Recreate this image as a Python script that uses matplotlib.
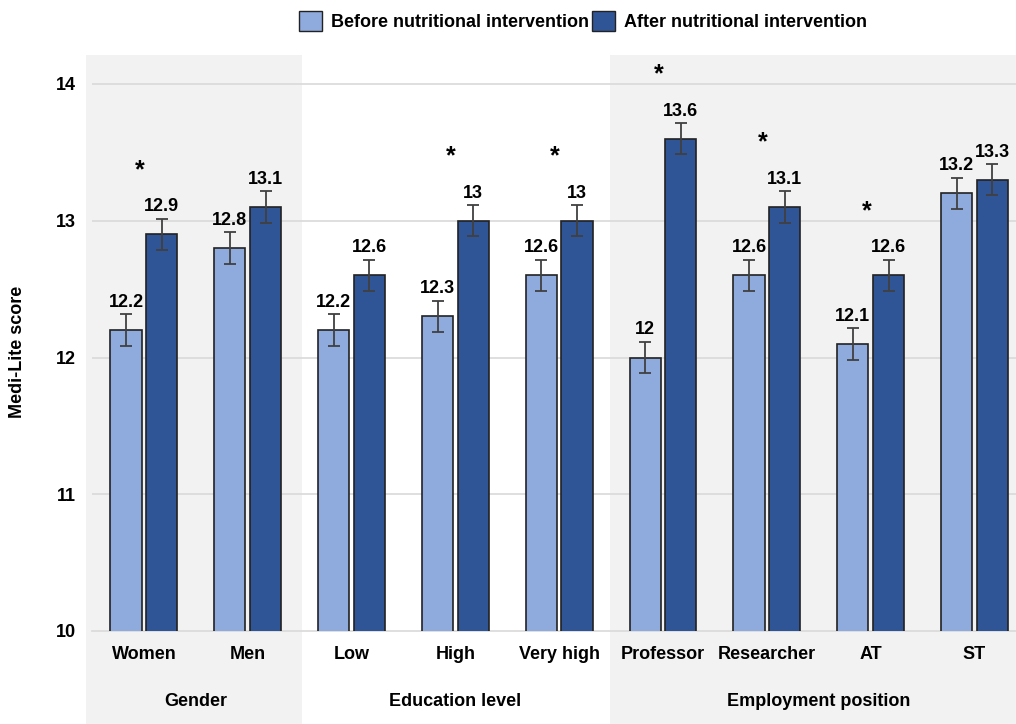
import matplotlib
matplotlib.use("Agg")
import matplotlib.pyplot as plt
from matplotlib.patches import Rectangle, Patch
import matplotlib.transforms as mtransforms
import numpy as np

plt.rcParams['font.family'] = ['Liberation Sans', 'DejaVu Sans']
plt.rcParams['font.weight'] = 'bold'

categories = ["Women", "Men", "Low", "High", "Very high",
              "Professor", "Researcher", "AT", "ST"]
groups = ["Gender", "Education level", "Employment position"]
group_sizes = [2, 3, 4]
before = [12.2, 12.8, 12.2, 12.3, 12.6, 12.0, 12.6, 12.1, 13.2]
after = [12.9, 13.1, 12.6, 13.0, 13.0, 13.6, 13.1, 12.6, 13.3]
before_err = [0.115, 0.115, 0.115, 0.115, 0.115, 0.115, 0.115, 0.115, 0.115]
after_err = [0.115, 0.115, 0.115, 0.115, 0.115, 0.115, 0.115, 0.115, 0.115]
significant = [True, False, False, True, True, True, True, True, False]
series_names = ["Before nutritional intervention", "After nutritional intervention"]
yticks = [10, 11, 12, 13, 14]

c_before = "#8FAADC"
c_after = "#2F5597"
shade = "#F2F2F2"
FS = 13

W, H = 1016, 724
fig = plt.figure(figsize=(W / 100, H / 100), dpi=100)
ax_left, ax_right = 92, 1016
ax_top, ax_bot = 55, 631
ax = fig.add_axes([ax_left / W, (H - ax_bot) / H, (ax_right - ax_left) / W, (ax_bot - ax_top) / H])

x = np.arange(len(categories))
bw = 0.30
off = 0.172

ax.set_xlim(-0.5, 8.40)
ax.set_ylim(10, 10 + (ax_bot - ax_top) / 136.75)

# background group shading
trans = mtransforms.blended_transform_factory(ax.transData, ax.transAxes)
ext = -(H - ax_bot) / (ax_bot - ax_top)
edges = [-0.56, 1.52, 4.49, 9.0]
for gi in range(3):
    if gi == 1:
        continue
    ax.add_patch(Rectangle((edges[gi], ext), edges[gi + 1] - edges[gi], 1 - ext,
                           transform=trans, facecolor=shade, edgecolor='none',
                           clip_on=False, zorder=0))

for t in yticks[1:]:
    ax.axhline(t, color="#D9D9D9", lw=1.2, zorder=1)

ax.bar(x - off, before, bw, color=c_before, edgecolor="#222222", linewidth=1.2, zorder=3,
       label=series_names[0])
ax.bar(x + off, after, bw, color=c_after, edgecolor="#222222", linewidth=1.2, zorder=3,
       label=series_names[1])
ax.errorbar(x - off, before, yerr=before_err, fmt='none', ecolor="#404040",
            elinewidth=1.3, capsize=4.3, capthick=1.3, zorder=4)
ax.errorbar(x + off, after, yerr=after_err, fmt='none', ecolor="#404040",
            elinewidth=1.3, capsize=4.3, capthick=1.3, zorder=4)

def fmt(v):
    return f"{v:g}"

for xi, v, e in zip(x - off, before, before_err):
    ax.annotate(fmt(v), (xi, v + e), xytext=(0, 2.5), textcoords='offset points',
                ha='center', va='bottom', fontsize=FS, fontweight='bold', zorder=5)
for xi, v, e in zip(x + off, after, after_err):
    ax.annotate(fmt(v), (xi, v + e), xytext=(0, 2.5), textcoords='offset points',
                ha='center', va='bottom', fontsize=FS, fontweight='bold', zorder=5)

for xi, v, s in zip(x, after, significant):
    if s:
        ax.text(xi - 0.04, v + 0.47, "*", ha='center', va='center', fontsize=18,
                fontweight='bold', zorder=5)

ax.set_xticks(x)
ax.set_xticklabels(categories, fontsize=FS, fontweight='bold')
ax.set_yticks(yticks)
ax.set_yticklabels([str(t) for t in yticks], fontsize=FS, fontweight='bold')
ax.tick_params(axis='both', length=0)
ax.tick_params(axis='x', pad=11)
ax.tick_params(axis='y', pad=11.5)
for s in ['top', 'right', 'left']:
    ax.spines[s].set_visible(False)
ax.spines['bottom'].set_color("#D9D9D9")
ax.spines['bottom'].set_linewidth(1.2)
ax.spines['bottom'].set_zorder(2)
ax.set_facecolor('none')

# group labels
gy = -(701 - ax_bot) / (ax_bot - ax_top)
start = 0
for name, n in zip(groups, group_sizes):
    cx = (x[start] + x[start + n - 1]) / 2
    ax.text(cx, gy, name, transform=trans, ha='center', va='center',
            fontsize=FS, fontweight='bold')
    start += n

fig.text(18 / W, (H - 352) / H, "Medi-Lite score", rotation=90, ha='center', va='center',
         fontsize=FS, fontweight='bold')

handles = [Patch(facecolor=c_before, edgecolor="#222222", linewidth=1.0),
           Patch(facecolor=c_after, edgecolor="#222222", linewidth=1.0)]
fig.legend(handles, series_names, loc='center', bbox_to_anchor=(583 / W, (H - 21) / H),
           ncol=2, frameon=False, handlelength=1.25, handleheight=1.35,
           handletextpad=0.5, columnspacing=0.2, prop={'weight': 'bold', 'size': FS})

fig.savefig("out.png", dpi=100)
